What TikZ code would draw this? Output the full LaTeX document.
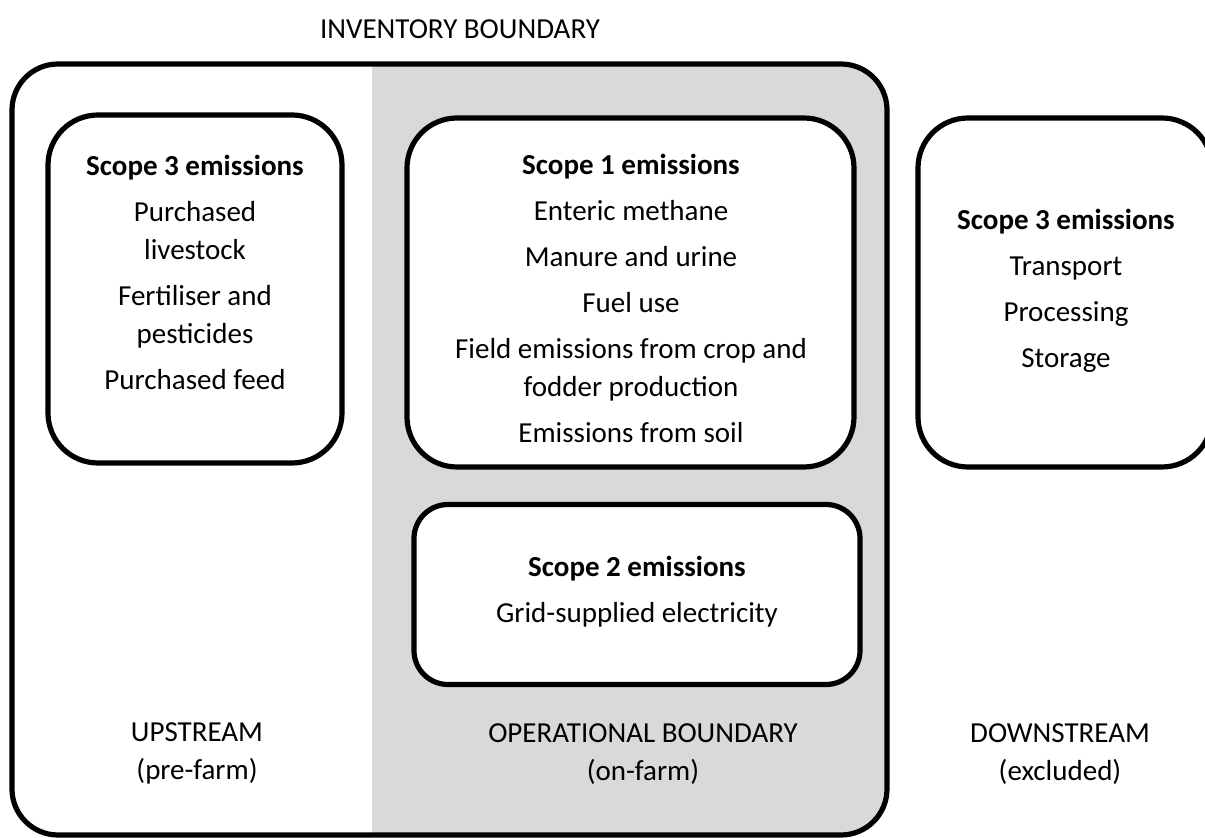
\documentclass[tikz,border=0pt]{standalone}
\usepackage{fontspec}
\setmainfont{Carlito}
\usetikzlibrary{
    positioning, % posicionamento relativo
    backgrounds
}
\definecolor{cinzaop}{HTML}{D9D9D9}

\begin{document}
\begin{tikzpicture}[x=0.5pt, y=-0.5pt, font=\fontsize{14.5}{19}\selectfont]

    % --- Estilos ---
    \tikzset{
        caixa/.style={draw, line width=2.6pt, fill=white, rounded corners=25pt, inner sep=0pt},
        fronteira/.style={draw, line width=2.6pt, rounded corners=23pt, inner sep=0pt},
        texto_caixa/.style={align=center},
        rotulo/.style={align=center}
    }

    \useasboundingbox (0,0) rectangle (1205,838);

    % --- Fronteira do inventario ---
    \node (titulo) at (460,29) {INVENTORY BOUNDARY};

    \begin{scope}
        \clip[rounded corners=23pt] (12,64) rectangle (887,835);
        \fill[cinzaop] (372,64) rectangle (887,835);
    \end{scope}
    \node[fronteira, minimum width=437.5pt, minimum height=385.5pt] (inventario) at (449.5,449.5) {};

    % --- Caixas dos escopos ---
    \node[caixa, minimum width=147pt, minimum height=174pt] (montante) at (195,289) {};
    \node[caixa, minimum width=223.5pt, minimum height=174.5pt] (escopo1) at (630.5,292.5) {};
    \node[caixa, rounded corners=17pt, minimum width=223pt, minimum height=90pt] (escopo2) at (637,594.5) {};
    \node[caixa, minimum width=147pt, minimum height=174.5pt] (jusante) at (1065,292.5) {};

    % --- Textos ---
    \node[texto_caixa] (txt_montante) at (195,272)
        {\textbf{Scope 3 emissions}\\[4pt] Purchased\\ livestock\\[4pt]
         Fertiliser and\\ pesticides\\[4pt] Purchased feed};
    \node[texto_caixa] (txt_escopo1) at (631,298)
        {\textbf{Scope 1 emissions}\\[4pt] Enteric methane\\[4pt] Manure and urine\\[4pt]
         Fuel use\\[4pt] Field emissions from crop and\\ fodder production\\[4pt]
         Emissions from soil};
    \node[texto_caixa] (txt_escopo2) at (637,592)
        {\textbf{Scope 2 emissions}\\[4pt] Grid-supplied electricity};
    \node[texto_caixa] (txt_jusante) at (1066,291)
        {\textbf{Scope 3 emissions}\\[4pt] Transport\\[4pt] Processing\\[4pt] Storage};

    % --- Rotulos inferiores ---
    \node[rotulo] (upstream) at (197,753) {UPSTREAM\\(pre-farm)};
    \node[rotulo] (operacional) at (643,754) {OPERATIONAL BOUNDARY\\(on-farm)};
    \node[rotulo] (downstream) at (1060,754) {DOWNSTREAM\\(excluded)};

\end{tikzpicture}
\end{document}
